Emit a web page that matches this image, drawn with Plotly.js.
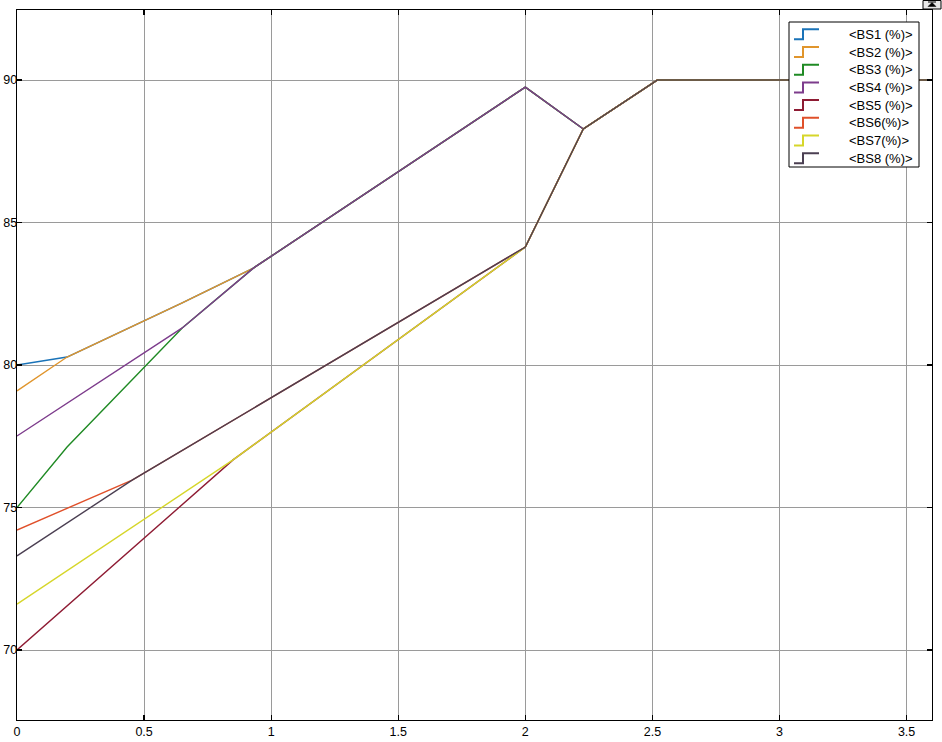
<!DOCTYPE html>
<html>
<head>
<meta charset="utf-8">
<script src="https://cdn.plot.ly/plotly-3.0.1.min.js"></script>
<style>
html,body{margin:0;padding:0;background:#fff;}
#chart{width:942px;height:742px;}
</style>
</head>
<body>
<div id="chart"></div>
<script>
// Series names (legend labels)
const names = ["<BS1 (%)>", "<BS2 (%)>", "<BS3 (%)>", "<BS4 (%)>",
               "<BS5 (%)>", "<BS6(%)>", "<BS7(%)>", "<BS8 (%)>"];
const colors = ["#1a73b8", "#e0952c", "#1f8a24", "#7d3c8c", "#8e1b33", "#e0502a", "#d6d62a", "#4b3f52"];

// Time (s) breakpoints and values (%) for each series
const bs1_t = [0, 0.197, 0.65, 0.93, 2.0, 2.228, 2.52, 3.6];
const bs1_v = [80.0, 80.28, 82.18, 83.4, 89.75, 88.28, 90.0, 90.0];
const bs2_t = [0, 0.197, 0.65, 0.93, 2.0, 2.228, 2.52, 3.6];
const bs2_v = [79.09, 80.28, 82.18, 83.4, 89.75, 88.28, 90.0, 90.0];
const bs3_t = [0, 0.197, 0.65, 0.93, 2.0, 2.228, 2.52, 3.6];
const bs3_v = [75.0, 77.12, 81.3, 83.4, 89.75, 88.28, 90.0, 90.0];
const bs4_t = [0, 0.65, 0.93, 2.0, 2.228, 2.52, 3.6];
const bs4_v = [77.51, 81.3, 83.4, 89.75, 88.28, 90.0, 90.0];
const bs5_t = [0, 0.85, 2.0, 2.228, 2.52, 3.6];
const bs5_v = [70.0, 76.67, 84.14, 88.28, 90.0, 90.0];
const bs6_t = [0, 0.453, 2.0, 2.228, 2.52, 3.6];
const bs6_v = [74.21, 75.96, 84.14, 88.28, 90.0, 90.0];
const bs7_t = [0, 0.85, 2.0, 2.228, 2.52, 3.6];
const bs7_v = [71.61, 76.67, 84.14, 88.28, 90.0, 90.0];
const bs8_t = [0, 0.453, 2.0, 2.228, 2.52, 3.6];
const bs8_v = [73.3, 75.96, 84.14, 88.28, 90.0, 90.0];

const xs = [bs1_t, bs2_t, bs3_t, bs4_t, bs5_t, bs6_t, bs7_t, bs8_t];
const ys = [bs1_v, bs2_v, bs3_v, bs4_v, bs5_v, bs6_v, bs7_v, bs8_v];

const xTicks = [0, 0.5, 1, 1.5, 2, 2.5, 3, 3.5];
const xTickText = ["0", "0.5", "1", "1.5", "2", "2.5", "3", "3.5"];
const yTicks = [70, 75, 80, 85, 90];
const yTickText = ["70", "75", "80", "85", "90"];

// ---- layout geometry ----
const W = 942, H = 742;
const M = {l: 17, r: 10, t: 10, b: 22};
const PW = W - M.l - M.r, PH = H - M.t - M.b;
const px2x = p => (p - M.l) / PW;        // pixel -> paper x
const px2y = p => 1 - (p - M.t) / PH;     // pixel -> paper y

const traces = names.map((n, i) => ({
  type: "scatter", mode: "lines", name: n,
  x: xs[i], y: ys[i],
  line: {color: colors[i], width: 1.4},
  showlegend: false
}));

const font = "Liberation Sans, Arial, sans-serif";
const axisCommon = {
  showline: true, linecolor: "#000", linewidth: 1.3, mirror: "ticks",
  showgrid: true, gridcolor: "#9a9a9a", gridwidth: 1,
  ticks: "inside", ticklen: 5, tickcolor: "#000", tickwidth: 1.3,
  zeroline: false,
  tickfont: {family: font, size: 12.5, color: "#000"}
};

// Custom legend (box, step icons, labels) in the upper right
const shapes = [];
const annotations = [];
const LG = {x0: 789, x1: 919, y0: 22, y1: 167, row0: 34.3, step: 17.7};
shapes.push({type: "rect", xref: "paper", yref: "paper",
  x0: px2x(LG.x0), x1: px2x(LG.x1), y0: px2y(LG.y1), y1: px2y(LG.y0),
  line: {color: "#000", width: 1}, fillcolor: "#fff", layer: "above"});
names.forEach((n, i) => {
  const cy = LG.row0 + LG.step * i;
  const lo = cy + 5, hi = cy - 5;
  shapes.push({type: "path", xref: "paper", yref: "paper", layer: "above",
    path: `M ${px2x(794)} ${px2y(lo)} L ${px2x(803)} ${px2y(lo)} L ${px2x(803)} ${px2y(hi)} L ${px2x(819)} ${px2y(hi)}`,
    line: {color: colors[i], width: 2}});
  annotations.push({xref: "paper", yref: "paper", x: px2x(847), y: px2y(cy),
    xanchor: "left", yanchor: "middle", showarrow: false,
    text: n.replace(/</g, "&lt;").replace(/>/g, "&gt;"),
    font: {family: font, size: 13, color: "#000"}});
});

// small expand button in the top-right corner
shapes.push({type: "rect", xref: "paper", yref: "paper",
  x0: px2x(923), x1: px2x(941), y0: px2y(9), y1: px2y(0.5),
  line: {color: "#000", width: 1}, fillcolor: "#e8e8e8", layer: "above"});
shapes.push({type: "path", xref: "paper", yref: "paper", layer: "above",
  path: `M ${px2x(932)} ${px2y(2.5)} L ${px2x(936)} ${px2y(6.5)} L ${px2x(928)} ${px2y(6.5)} Z`,
  fillcolor: "#000", line: {color: "#000", width: 0.5}});
shapes.push({type: "line", xref: "paper", yref: "paper", layer: "above",
  x0: px2x(928), x1: px2x(936), y0: px2y(2), y1: px2y(2),
  line: {color: "#000", width: 1}});

const layout = {
  width: W, height: H,
  margin: {l: M.l, r: M.r, t: M.t, b: M.b, pad: 0},
  paper_bgcolor: "#fff", plot_bgcolor: "#fff",
  showlegend: false,
  xaxis: Object.assign({}, axisCommon, {range: [0, 3.6], tickmode: "array", tickvals: xTicks, ticktext: xTickText}),
  yaxis: Object.assign({}, axisCommon, {range: [67.544, 92.456], tickmode: "array", tickvals: yTicks, ticktext: yTickText, ticklabelstandoff: -4}),
  shapes: shapes,
  annotations: annotations
};

Plotly.newPlot("chart", traces, layout, {displayModeBar: false, staticPlot: true});
</script>
</body>
</html>
